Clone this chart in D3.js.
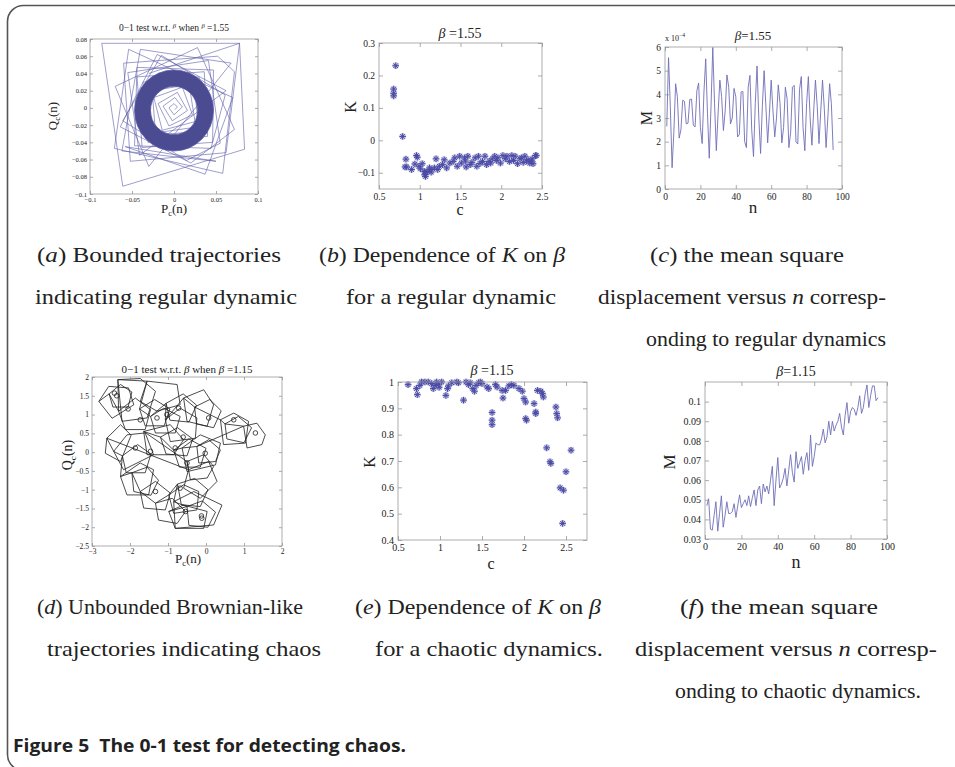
<!DOCTYPE html>
<html>
<head>
<meta charset="utf-8">
<script src="https://cdn.jsdelivr.net/npm/d3@7"></script>
<style>
body { margin: 0; background: #fff; }
svg text { font-family: "Liberation Serif", "Times New Roman", serif; fill: #222; }
</style>
</head>
<body>
<div id="chart"></div>
<script>
// ---- data ----

// (a) beta = 1.55 : trajectory (P_c, Q_c) and the dense ring it winds into
var ringA = [0.028, 0.047];          // inner / outer radius
var ringCenterA = [0, -0.003];
var trajA = [
	[0.001,-0.002],[0.004,0.001],[0.000,0.005],[-0.006,0.000],[0.000,-0.008],[0.010,0.001],
	[0.001,0.012],[-0.013,0.002],[-0.002,-0.015],[0.016,-0.003],[0.004,0.018],[-0.019,0.005],
	[-0.006,-0.021],[0.022,-0.008],[0.010,0.024],[-0.024,0.012],[-0.014,-0.026],[0.025,-0.016],
	[0.018,0.027],[-0.026,0.020],[-0.022,-0.029],[0.029,-0.022],[0.024,0.030],[-0.030,0.026],
	[-0.026,-0.032],[0.032,-0.027],[0.030,0.036],[-0.037,0.030],[-0.031,-0.040],[0.040,-0.033],
	[0.036,0.042],[-0.044,0.036],[-0.038,-0.046],[0.046,-0.040],
	[0.047,0.044],[-0.044,0.047],[-0.047,-0.044],[0.044,-0.047],
	[0.061,0.015],[-0.015,0.061],[-0.061,-0.015],[0.015,-0.061],
	[0.055,-0.041],[0.041,0.055],[-0.055,0.041],[-0.041,-0.055],
	[0.062,0.020],[-0.020,0.062],[-0.064,-0.022],[0.020,-0.064],
	[0.072,-0.025],[0.028,0.070],[-0.070,0.025],[-0.030,-0.068],
	[0.068,0.052],[-0.040,0.068],[-0.062,-0.050],[0.050,-0.062],
	[-0.058,-0.045],[0.037,-0.077],[0.070,0.012],[-0.025,0.055],
	[-0.054,0.068],[-0.071,-0.047],[0.058,-0.076],[0.072,0.042],
	[0.052,0.060],[-0.060,0.052],[-0.052,-0.062],[0.062,-0.052],
	[0.078,0.075],[-0.086,0.075],[-0.061,-0.091],[0.084,-0.048],[0.078,0.075],
	[-0.030,0.040]
];

// (b) beta = 1.55 : K against c
var cB = [0.705,0.68,0.68,0.68,0.79,0.83,0.84,0.82,0.90,0.96,0.97,0.94,0.99,1.01,1.03,1.06,1.06,1.07,1.08,
	1.10,1.12,1.14,1.14,1.18,1.20,1.22,1.24,1.28,1.30,1.33,1.37,1.41,1.43,1.46,1.49,1.51,1.55,1.56,1.57,
	1.59,1.62,1.64,1.68,1.70,1.72,1.74,1.77,1.80,1.82,1.85,1.87,1.89,1.92,1.94,1.96,1.99,2.02,2.05,2.07,
	2.10,2.13,2.15,2.17,2.20,2.23,2.25,2.27,2.29,2.31,2.33,2.35,2.37,2.38,2.39,2.42,2.43];
var kB = [0.230,0.158,0.145,0.137,0.012,-0.058,-0.082,-0.082,-0.090,-0.047,-0.052,-0.073,-0.080,-0.088,-0.072,
	-0.096,-0.106,-0.111,-0.098,-0.096,-0.085,-0.090,-0.098,-0.085,-0.057,-0.090,-0.080,-0.075,-0.060,-0.085,
	-0.070,-0.065,-0.054,-0.080,-0.049,-0.070,-0.054,-0.064,-0.082,-0.049,-0.075,-0.068,-0.054,-0.080,-0.049,
	-0.071,-0.065,-0.049,-0.075,-0.065,-0.070,-0.057,-0.049,-0.062,-0.054,-0.070,-0.047,-0.057,-0.049,-0.065,
	-0.047,-0.062,-0.049,-0.072,-0.057,-0.054,-0.068,-0.049,-0.064,-0.060,-0.070,-0.064,-0.057,-0.072,-0.047,-0.047];

// (c) beta = 1.55 : mean square displacement, n = 1..95, units of 1e-4
var m1 = [2.65,5.55,3.5,0.9,2.4,4.45,3.9,2.15,2.5,3.75,3.7,2.75,2.78,3.78,3.8,2.7,2.62,4.15,4.48,2.6,
	1.92,4.1,5.5,3.2,1.3,3.5,5.98,3.6,1.62,3.2,4.6,3.9,2.47,3.3,4.82,4.3,2.75,3.0,4.25,3.9,
	2.2,2.3,4.1,4.12,2.0,1.75,4.3,4.8,2.5,1.37,3.6,5.2,3.0,1.5,3.5,5.0,3.5,1.95,3.2,4.6,
	3.3,2.2,3.0,4.4,3.6,1.95,2.6,4.3,3.8,1.75,2.4,4.3,4.38,2.0,1.9,4.2,4.75,2.6,1.62,3.6,
	4.75,3.0,1.85,3.3,4.6,3.5,1.92,3.3,4.6,3.4,1.75,3.0,4.45,3.6,1.65];

// (d) beta = 1.15 : pentagon-like loops of the trajectory, and the small curls
var pentD = [
	[[-2.82,1.35],[-2.56,1.75],[-2.04,1.71],[-1.90,1.26],[-2.47,0.90]],
	[[-2.55,1.55],[-2.25,1.80],[-1.95,1.60],[-2.05,1.20],[-2.45,1.20]],
	[[-2.30,1.09],[-1.86,1.44],[-1.46,1.13],[-1.60,0.60],[-2.12,0.60]],
	[[-2.32,1.93],[-1.73,1.96],[-1.33,1.62],[-1.55,0.91],[-2.21,0.82]],
	[[-1.55,1.89],[-0.76,1.80],[-0.68,1.26],[-1.29,1.09],[-1.73,1.35]],
	[[-1.75,1.15],[-1.35,1.40],[-0.95,1.15],[-1.10,0.70],[-1.60,0.70]],
	[[-1.46,0.95],[-1.11,1.17],[-0.68,0.95],[-0.81,0.51],[-1.33,0.51]],
	[[-1.05,1.30],[-0.60,1.55],[-0.25,1.25],[-0.45,0.80],[-0.95,0.85]],
	[[-1.07,0.86],[-0.68,1.17],[-0.24,0.91],[-0.28,0.37],[-0.94,0.28]],
	[[-0.59,1.44],[-0.06,1.66],[0.20,1.26],[0.03,0.69],[-0.50,0.82]],
	[[-0.30,1.20],[0.10,1.40],[0.40,1.10],[0.20,0.65],[-0.25,0.75]],
	[[0.38,0.86],[0.73,1.04],[1.12,0.82],[1.04,0.24],[0.46,0.20]],
	[[0.50,0.75],[0.85,0.95],[1.20,0.65],[1.00,0.25],[0.55,0.35]],
	[[0.99,0.69],[1.34,0.77],[1.56,0.46],[1.47,0.20],[1.08,0.11]],
	[[-0.24,0.15],[0.07,0.33],[0.38,0.06],[0.25,-0.25],[-0.19,-0.29]],
	[[-0.63,0.11],[-0.15,0.46],[0.38,0.24],[0.25,-0.34],[-0.50,-0.52]],
	[[-0.85,0.05],[-0.45,0.35],[0.00,0.10],[-0.15,-0.40],[-0.70,-0.40]],
	[[-1.20,0.40],[-0.75,0.65],[-0.35,0.35],[-0.50,-0.10],[-1.05,-0.05]],
	[[-1.64,0.55],[-0.94,0.73],[-0.59,0.33],[-0.85,-0.07],[-1.55,-0.07]],
	[[-0.50,-0.25],[-0.06,-0.07],[0.20,-0.38],[0.03,-0.69],[-0.41,-0.74]],
	[[-0.46,-0.47],[0.07,-0.25],[0.29,-0.78],[-0.15,-1.23],[-0.59,-0.96]],
	[[-2.61,0.37],[-2.25,0.73],[-1.97,0.45],[-2.25,-0.25],[-2.65,-0.03]],
	[[-2.43,0.02],[-2.08,0.46],[-1.60,0.51],[-1.38,-0.07],[-2.17,-0.47]],
	[[-2.20,-0.10],[-1.80,0.20],[-1.45,-0.05],[-1.60,-0.55],[-2.10,-0.55]],
	[[-2.25,-0.65],[-1.73,-0.29],[-1.38,-0.47],[-1.51,-1.14],[-2.08,-1.14]],
	[[-1.95,-0.55],[-1.55,-0.40],[-1.25,-0.75],[-1.45,-1.15],[-1.90,-1.05]],
	[[-1.73,-1.05],[-1.33,-0.78],[-0.94,-1.09],[-1.07,-1.54],[-1.64,-1.49]],
	[[-1.33,-1.36],[-0.89,-1.23],[-0.54,-1.58],[-0.76,-1.90],[-1.25,-1.81]],
	[[-0.98,-1.14],[-0.59,-0.87],[-0.19,-1.05],[-0.24,-1.54],[-0.85,-1.63]],
	[[-0.75,-0.85],[-0.30,-0.70],[0.05,-1.00],[-0.15,-1.45],[-0.65,-1.40]],
	[[-0.85,-1.32],[-0.32,-1.05],[0.42,-1.41],[0.20,-1.94],[-0.81,-2.03]],
	[[-0.50,-1.45],[-0.10,-1.30],[0.25,-1.60],[0.05,-2.00],[-0.45,-1.95]],
	[[-0.98,-1.58],[-0.59,-1.41],[0.03,-1.58],[-0.06,-2.03],[-0.81,-2.03]]
];
var loopsD = [[-2.41,1.57],[-1.29,0.91],[-1.73,0.86],[-1.03,1.00],[0.07,0.91],[0.73,0.86],[1.30,0.51],
	[-1.86,0.11],[-0.50,-0.29],[-0.02,-0.03],[-0.81,0.11],[-1.33,-1.05],[-0.68,-0.96],[-0.54,-1.58],
	[-0.11,-1.76],[-0.72,1.17],[-1.46,0.02],[-0.60,0.40],[-2.05,1.15],[-0.12,-1.70],[-2.35,1.50]];

// (e) beta = 1.15 : K against c
var cE = [0.62,0.72,0.73,0.76,0.78,0.82,0.86,0.90,0.92,0.94,0.96,0.98,0.99,1.02,1.07,1.09,1.10,1.14,1.20,
	1.22,1.28,1.31,1.34,1.36,1.39,1.41,1.43,1.46,1.48,1.50,1.56,1.58,1.62,1.62,1.62,1.66,1.68,1.74,1.75,
	1.78,1.82,1.85,1.88,1.94,1.98,2.00,2.02,2.02,2.03,2.12,2.14,2.14,2.16,2.20,2.22,2.23,2.27,2.31,2.32,
	2.38,2.39,2.40,2.43,2.46,2.47,2.50,2.56];
var kE = [0.990,0.975,0.952,0.987,1.0,1.0,1.0,0.994,0.975,0.987,1.0,0.990,0.980,1.0,0.949,0.975,0.985,0.997,1.0,
	0.997,0.931,1.0,0.990,0.997,0.975,0.965,0.987,0.997,1.0,0.994,0.981,0.975,0.884,0.855,0.838,0.990,0.981,0.968,0.939,
	0.968,0.985,0.990,0.987,0.975,0.965,0.937,0.924,0.861,0.855,0.918,0.886,0.880,0.968,0.965,0.956,0.943,0.750,0.697,0.691,
	0.905,0.880,0.864,0.598,0.463,0.589,0.659,0.741];

// (f) beta = 1.15 : mean square displacement, n = 1..95
var m2 = [0.047,0.0505,0.035,0.0345,0.042,0.049,0.034,0.043,0.052,0.036,0.042,0.049,0.043,0.043,0.044,0.048,0.041,0.047,0.0525,0.046,
	0.048,0.050,0.047,0.052,0.0465,0.051,0.055,0.047,0.055,0.057,0.048,0.058,0.054,0.057,0.053,0.060,0.067,0.047,0.060,0.0715,
	0.056,0.058,0.061,0.066,0.057,0.065,0.073,0.064,0.059,0.0745,0.066,0.069,0.072,0.063,0.070,0.074,0.065,0.083,0.067,0.072,
	0.079,0.078,0.078,0.081,0.086,0.079,0.082,0.090,0.083,0.090,0.085,0.088,0.090,0.094,0.087,0.083,0.093,0.0995,0.089,0.095,
	0.097,0.096,0.093,0.097,0.103,0.094,0.097,0.104,0.1085,0.097,0.103,0.108,0.108,0.1005,0.102];

var captions = [
	{x: 37, y: 262, w: 244, parts: [['(', 0], ['a', 1], [') Bounded trajectories', 0]]},
	{x: 35, y: 304, w: 262, parts: [['indicating regular dynamic', 0]]},
	{x: 319, y: 262, w: 246, parts: [['(', 0], ['b', 1], [') Dependence of ', 0], ['K', 1], [' on ', 0], ['β', 1]]},
	{x: 346, y: 304, w: 210, parts: [['for a regular dynamic', 0]]},
	{x: 650, y: 262, w: 194, parts: [['(', 0], ['c', 1], [') the mean square', 0]]},
	{x: 598, y: 304, w: 288, parts: [['displacement versus ', 0], ['n', 1], [' corresp-', 0]]},
	{x: 646, y: 346, w: 240, parts: [['onding to regular dynamics', 0]]},
	{x: 37, y: 614, w: 266, parts: [['(', 0], ['d', 1], [') Unbounded Brownian-like', 0]]},
	{x: 47, y: 656, w: 274, parts: [['trajectories indicating chaos', 0]]},
	{x: 355, y: 614, w: 246, parts: [['(', 0], ['e', 1], [') Dependence of ', 0], ['K', 1], [' on ', 0], ['β', 1]]},
	{x: 375, y: 656, w: 228, parts: [['for a chaotic dynamics.', 0]]},
	{x: 680, y: 614, w: 198, parts: [['(', 0], ['f', 1], [') the mean square', 0]]},
	{x: 635, y: 656, w: 302, parts: [['displacement versus ', 0], ['n', 1], [' corresp-', 0]]},
	{x: 675, y: 698, w: 246, parts: [['onding to chaotic dynamics.', 0]]}
];

// ---- drawing ----
var width = 955, height = 767;
var svg = d3.select('#chart').append('svg')
	.attr('width', width)
	.attr('height', height);

svg.append('rect')
	.attr('x', 7.5).attr('y', 5.5)
	.attr('width', 1000).attr('height', 765)
	.attr('rx', 16)
	.attr('fill', 'none')
	.attr('stroke', '#555')
	.attr('stroke-width', 1.6);

var fmt = d3.format('~g');

function panel(o) {
	var x = d3.scaleLinear().domain(o.xd).range([o.l, o.r]);
	var y = d3.scaleLinear().domain(o.yd).range([o.b, o.t]);
	var g = svg.append('g');
	g.append('rect')
		.attr('x', o.l).attr('y', o.t)
		.attr('width', o.r - o.l).attr('height', o.b - o.t)
		.attr('fill', '#fff');
	var marks = g.append('g');
	var ax = g.append('g');
	return {x: x, y: y, marks: marks, ax: ax, o: o};
}

function axes(p) {
	var o = p.o;
	p.ax.append('g').attr('transform', 'translate(0,' + o.b + ')')
		.call(d3.axisBottom(p.x).tickValues(o.xt).tickSizeInner(-o.ts).tickSizeOuter(0).tickPadding(o.tp).tickFormat(fmt));
	p.ax.append('g').attr('transform', 'translate(' + o.l + ',0)')
		.call(d3.axisLeft(p.y).tickValues(o.yt).tickSizeInner(-o.ts).tickSizeOuter(0).tickPadding(o.tp).tickFormat(fmt));
	p.ax.append('g').attr('transform', 'translate(0,' + o.t + ')')
		.call(d3.axisTop(p.x).tickValues(o.xt).tickSizeInner(-o.ts).tickSizeOuter(0).tickFormat(''));
	p.ax.append('g').attr('transform', 'translate(' + o.r + ',0)')
		.call(d3.axisRight(p.y).tickValues(o.yt).tickSizeInner(-o.ts).tickSizeOuter(0).tickFormat(''));
	p.ax.selectAll('.domain').remove();
	p.ax.selectAll('line').attr('stroke', '#888').attr('stroke-width', 0.7);
	p.ax.selectAll('text')
		.style('font-family', '"Liberation Serif", serif')
		.style('font-size', o.fs + 'px')
		.attr('fill', '#333');
	p.ax.append('rect')
		.attr('x', o.l).attr('y', o.t)
		.attr('width', o.r - o.l).attr('height', o.b - o.t)
		.attr('fill', 'none').attr('stroke', '#999').attr('stroke-width', 0.8);
}

function label(x, y, size, parts, rotate, anchor) {
	var t = svg.append('text')
		.attr('x', x).attr('y', y)
		.attr('text-anchor', anchor || 'middle')
		.style('font-size', size + 'px');
	if (rotate) t.attr('transform', 'rotate(-90,' + x + ',' + y + ')');
	parts.forEach(function(p) {
		var s = t.append('tspan').text(p[0]);
		if (p[1] == 'i') s.style('font-style', 'italic');
		if (p[1] == 'sub') s.style('font-size', (size * 0.65) + 'px').attr('dy', size * 0.25);
		if (p[1] == 'back') s.attr('dy', -size * 0.25);
		if (p[1] == 'sup') s.style('font-size', (size * 0.7) + 'px').attr('dy', -size * 0.35).style('font-style', 'italic');
		if (p[1] == 'down') s.attr('dy', size * 0.35);
		if (p[1] == 'supn') s.style('font-size', (size * 0.7) + 'px').attr('dy', -size * 0.45);
	});
	return t;
}

var line = function(p) {
	return d3.line().x(function(d) { return p.x(d[0]); }).y(function(d) { return p.y(d[1]); });
};

function stars(p, xs, ys, r) {
	var k = r * 0.7;
	var sym = 'M' + (-r) + ',0H' + r + 'M0,' + (-r) + 'V' + r +
		'M' + (-k) + ',' + (-k) + 'L' + k + ',' + k + 'M' + (-k) + ',' + k + 'L' + k + ',' + (-k);
	var pts = xs.map(function(c, i) { return [c, ys[i]]; });
	p.marks.selectAll('path.halo').data(pts).enter().append('path')
		.attr('class', 'halo')
		.attr('d', sym)
		.attr('transform', function(d) { return 'translate(' + p.x(d[0]) + ',' + p.y(d[1]) + ')'; })
		.attr('fill', 'none').attr('stroke', '#c4c4e4').attr('stroke-width', 2.6);
	p.marks.selectAll('path.star').data(pts).enter().append('path')
		.attr('class', 'star')
		.attr('d', sym)
		.attr('transform', function(d) { return 'translate(' + p.x(d[0]) + ',' + p.y(d[1]) + ')'; })
		.attr('fill', 'none').attr('stroke', '#4a4aa6').attr('stroke-width', 1);
}

// (a)
var pa = panel({l: 90, r: 258, t: 39, b: 194, xd: [-0.1, 0.1], yd: [-0.1, 0.08],
	xt: [-0.1, -0.05, 0, 0.05, 0.1], yt: [-0.1, -0.08, -0.06, -0.04, -0.02, 0, 0.02, 0.04, 0.06, 0.08],
	ts: 3, tp: 3, fs: 6.5});
pa.marks.append('path')
	.attr('d', line(pa)(trajA))
	.attr('fill', 'none').attr('stroke', '#5c5caa').attr('stroke-width', 0.6);
(function() {
	var cx = pa.x(ringCenterA[0]), cy = pa.y(ringCenterA[1]);
	var kx = pa.x(1) - pa.x(0), ky = pa.y(0) - pa.y(1);
	var ro = ringA[1], ri = ringA[0];
	var d = 'M' + (cx - ro * kx) + ',' + cy +
		'A' + (ro * kx) + ',' + (ro * ky) + ' 0 1,0 ' + (cx + ro * kx) + ',' + cy +
		'A' + (ro * kx) + ',' + (ro * ky) + ' 0 1,0 ' + (cx - ro * kx) + ',' + cy + 'Z' +
		'M' + (cx - ri * kx) + ',' + cy +
		'A' + (ri * kx) + ',' + (ri * ky) + ' 0 1,0 ' + (cx + ri * kx) + ',' + cy +
		'A' + (ri * kx) + ',' + (ri * ky) + ' 0 1,0 ' + (cx - ri * kx) + ',' + cy + 'Z';
	pa.marks.append('path').attr('d', d).attr('fill-rule', 'evenodd')
		.attr('fill', '#4b4b92').attr('stroke', '#5c5caa').attr('stroke-width', 0.8);
})();
axes(pa);
label(174, 31, 9.5, [['0−1 test w.r.t. ', 0], ['β', 'sup'], [' ', 'down'], [' when ', 0], ['β', 'sup'], [' =1.55', 'down']]);
label(57, 116, 13, [['Q', 0], ['c', 'sub'], ['(n)', 'back']], true);
label(174, 213, 13, [['P', 0], ['c', 'sub'], ['(n)', 'back']]);

// (b)
var pb = panel({l: 379, r: 542, t: 43, b: 189, xd: [0.5, 2.5], yd: [-0.15, 0.3],
	xt: [0.5, 1, 1.5, 2, 2.5], yt: [-0.1, 0, 0.1, 0.2, 0.3], ts: 4, tp: 4, fs: 9.5});
stars(pb, cB, kB, 3.3);
axes(pb);
label(460, 38, 14, [['β', 'i'], [' =1.55', 0]]);
label(356, 107, 16, [['K', 0]], true);
label(460, 215, 16, [['c', 0]]);

// (c)
var pc = panel({l: 665, r: 842, t: 47, b: 189, xd: [0, 100], yd: [0, 6],
	xt: [0, 20, 40, 60, 80, 100], yt: [0, 1, 2, 3, 4, 5, 6], ts: 4, tp: 4, fs: 9.5});
pc.marks.append('path')
	.attr('d', line(pc)(m1.map(function(v, i) { return [i + 1, v]; })))
	.attr('fill', 'none').attr('stroke', '#6e6eb8').attr('stroke-width', 0.9);
axes(pc);
label(665, 41, 8, [['x 10', 0], ['−4', 'supn']], false, 'start');
label(753, 40, 13, [['β', 'i'], ['=1.55', 0]]);
label(652, 118, 16, [['M', 0]], true);
label(753, 213, 17, [['n', 0]]);

// (d)
var pd = panel({l: 92, r: 282, t: 377, b: 546, xd: [-3, 2], yd: [-2.5, 2],
	xt: [-3, -2, -1, 0, 1, 2], yt: [-2.5, -2, -1.5, -1, -0.5, 0, 0.5, 1, 1.5, 2], ts: 3, tp: 3, fs: 7.5});
(function() {
	var pts = [];
	pentD.forEach(function(pg) {
		pg.forEach(function(v) { pts.push(v); });
		pts.push(pg[0]);
	});
	pd.marks.append('path')
		.attr('d', line(pd)(pts))
		.attr('fill', 'none').attr('stroke', '#1e1e1e').attr('stroke-width', 0.8);
	pd.marks.selectAll('circle').data(loopsD).enter().append('circle')
		.attr('cx', function(d) { return pd.x(d[0]); })
		.attr('cy', function(d) { return pd.y(d[1]); })
		.attr('r', 2.3)
		.attr('fill', 'none').attr('stroke', '#1e1e1e').attr('stroke-width', 0.8);
})();
axes(pd);
label(187, 373, 11, [['0−1 test w.r.t.  ', 0], ['β', 'i'], [' when  ', 0], ['β', 'i'], [' =1.15', 0]]);
label(72, 455, 14, [['Q', 0], ['c', 'sub'], ['(n)', 'back']], true);
label(188, 563, 13, [['P', 0], ['c', 'sub'], ['(n)', 'back']]);

// (e)
var pe = panel({l: 398, r: 587, t: 382, b: 540, xd: [0.5, 2.75], yd: [0.4, 1],
	xt: [0.5, 1, 1.5, 2, 2.5], yt: [0.4, 0.5, 0.6, 0.7, 0.8, 0.9, 1], ts: 4, tp: 4, fs: 10});
stars(pe, cE, kE, 3.3);
axes(pe);
label(492, 375, 14, [['β', 'i'], [' =1.15', 0]]);
label(375, 462, 16, [['K', 0]], true);
label(491, 569, 16, [['c', 0]]);

// (f)
var pf = panel({l: 705, r: 887, t: 382, b: 539, xd: [0, 100], yd: [0.03, 0.11],
	xt: [0, 20, 40, 60, 80, 100], yt: [0.03, 0.04, 0.05, 0.06, 0.07, 0.08, 0.09, 0.1], ts: 4, tp: 4, fs: 10});
pf.marks.append('path')
	.attr('d', line(pf)(m2.map(function(v, i) { return [i + 1, v]; })))
	.attr('fill', 'none').attr('stroke', '#6e6eb8').attr('stroke-width', 0.9);
axes(pf);
label(796, 376, 14, [['β', 'i'], ['=1.15', 0]]);
label(675, 462, 17, [['M', 0]], true);
label(796, 568, 18, [['n', 0]]);

// sub-captions
captions.forEach(function(c) {
	var t = svg.append('text')
		.attr('x', c.x).attr('y', c.y)
		.attr('textLength', c.w)
		.attr('lengthAdjust', 'spacingAndGlyphs')
		.style('font-size', '22px')
		.attr('fill', '#111');
	c.parts.forEach(function(p) {
		var s = t.append('tspan').text(p[0]);
		if (p[1]) s.style('font-style', 'italic');
	});
});

svg.append('text')
	.attr('x', 13).attr('y', 752)
	.attr('textLength', 393)
	.attr('lengthAdjust', 'spacingAndGlyphs')
	.style('white-space', 'pre')
	.style('font-family', '"Open Sans", "Noto Sans", sans-serif')
	.style('font-weight', 700)
	.style('font-size', '17px')
	.attr('fill', '#111')
	.text('Figure 5  The 0-1 test for detecting chaos.');
</script>
</body>
</html>
